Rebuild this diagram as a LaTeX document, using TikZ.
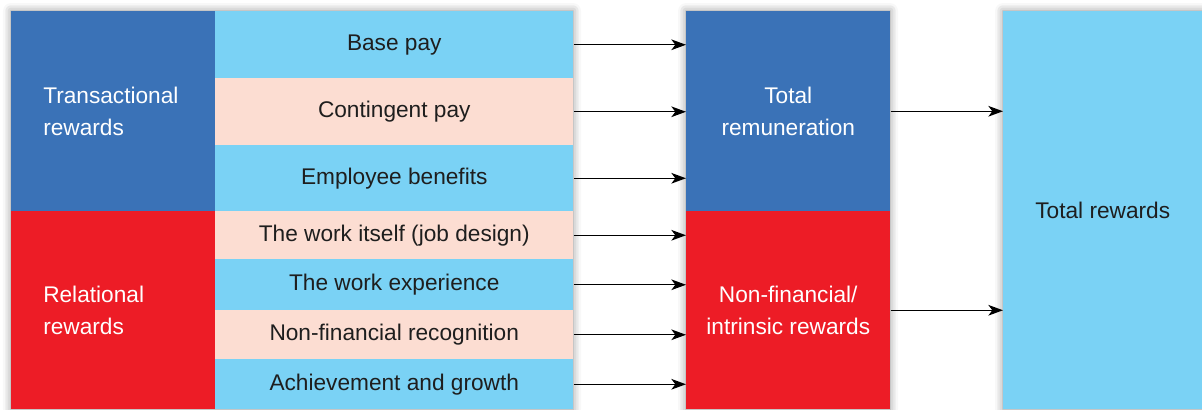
\documentclass[tikz,border=0pt]{standalone}
\usepackage{fontspec}
\setmainfont{Liberation Sans}
\usetikzlibrary{arrows.meta,shadows.blur}

\definecolor{dunkelblau}{HTML}{3A72B7}
\definecolor{rot}{HTML}{ED1C26}
\definecolor{hellblau}{HTML}{7AD2F5}
\definecolor{pfirsich}{HTML}{FCDDD2}
\definecolor{schrift}{HTML}{1E1E1E}

\begin{document}
\begin{tikzpicture}[x=0.75pt, y=-0.75pt,
    feld/.style n args={3}{rectangle, anchor=north west, inner sep=0pt, fill=#1,
        minimum width=#2*0.75pt, minimum height=#3*0.75pt},
    schrift/.style={font=\fontsize{17}{24.5}\selectfont},
    pfeil/.style={-{Stealth[length=11pt, width=8pt, inset=3pt]}, line width=1pt, black},
    schatten/.style={white, blur shadow={shadow xshift=0pt, shadow yshift=0pt,
        shadow blur radius=6pt, shadow opacity=45}}]

        \useasboundingbox (0,0) rectangle (1202,410);

        % Schatten
        \fill[schatten] (11,11) rectangle (573,409);
        \fill[schatten] (686,11) rectangle (890,409);
        \fill[schatten] (1003,11) rectangle (1202,409);

        % linke Spalte
        \node [feld={dunkelblau}{204}{200}, schrift, text=white, align=left,
            text width=140*0.75pt] (transaktional) at (11,11) {Transactional\\rewards};
        \node [feld={rot}{204}{198}, schrift, text=white, align=left,
            text width=140*0.75pt] (relational) at (11,211) {Relational\\rewards};

        % mittlere Spalte
        \foreach \nr/\oben/\hoehe/\farbe/\beschriftung in {1/11/67/hellblau/Base pay, 2/78/67/pfirsich/Contingent pay, 3/145/66/hellblau/Employee benefits, 4/211/48/pfirsich/The work itself (job design), 5/259/51/hellblau/The work experience, 6/310/49/pfirsich/Non-financial recognition, 7/359/50/hellblau/Achievement and growth}
            \node [feld={\farbe}{358}{\hoehe}, schrift, text=schrift] (zeile\nr) at (215,\oben) {\beschriftung};

        % Zwischensummen
        \node [feld={dunkelblau}{204}{200}, schrift, text=white, align=center]
            (verguetung) at (686,11) {Total\\remuneration};
        \node [feld={rot}{204}{198}, schrift, text=white, align=center]
            (immateriell) at (686,211) {Non-financial/\\intrinsic rewards};

        % Gesamt
        \node [feld={hellblau}{199}{398}, schrift, text=schrift]
            (gesamt) at (1003,11) {Total rewards};

        % Pfeile
        \foreach \nr in {1,2,3}
            \draw [pfeil] (zeile\nr.east) -- (zeile\nr.east -| verguetung.west);
        \foreach \nr in {4,...,7}
            \draw [pfeil] (zeile\nr.east) -- (zeile\nr.east -| immateriell.west);
        \draw [pfeil] (verguetung.east) -- (verguetung.east -| gesamt.west);
        \draw [pfeil] (immateriell.east) -- (immateriell.east -| gesamt.west);

\end{tikzpicture}
\end{document}
